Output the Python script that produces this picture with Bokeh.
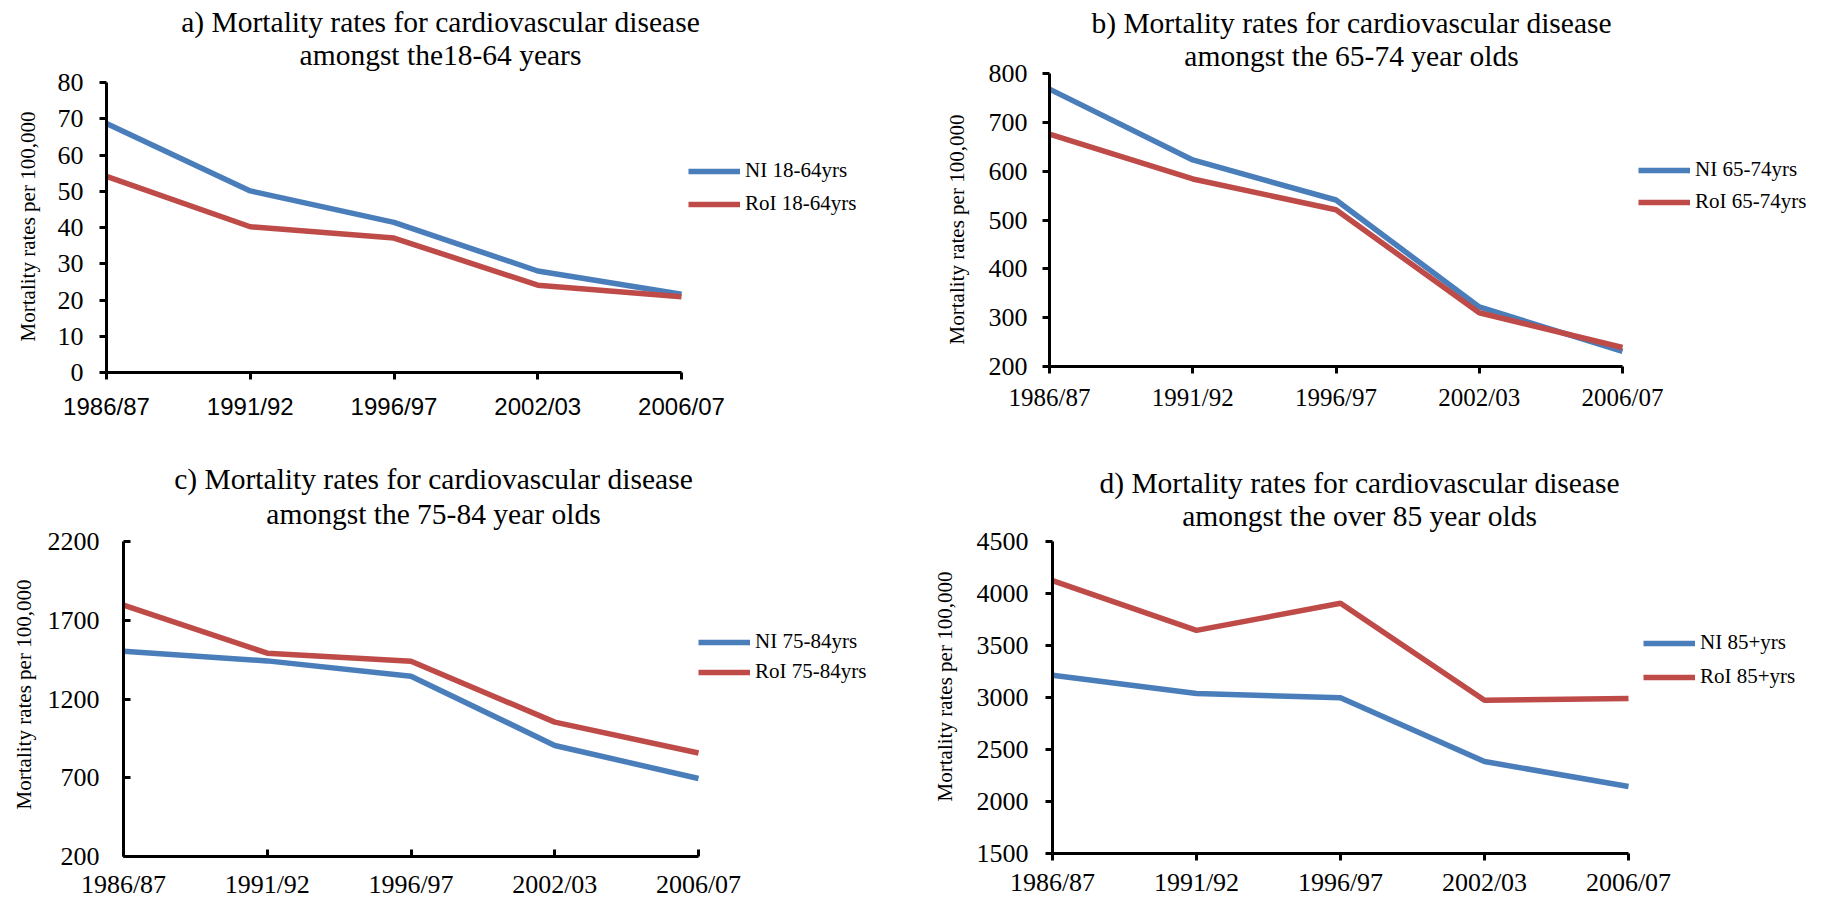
import math
from bokeh.plotting import figure
from bokeh.layouts import column, row
from bokeh.models import Range1d, FixedTicker, Legend, LegendItem, Label
from bokeh.embed import file_html
from bokeh.resources import INLINE

periods = ["1986/87", "1991/92", "1996/97", "2002/03", "2006/07"]

ni_18_64 = [68.7, 50.1, 41.4, 28.0, 21.6]
roi_18_64 = [54.1, 40.2, 37.1, 24.1, 20.9]
ni_65_74 = [768, 623, 541, 322, 231]
roi_65_74 = [676, 584, 521, 310, 239]
ni_75_84 = [1503, 1442, 1345, 905, 695]
roi_75_84 = [1796, 1491, 1440, 1053, 857]
ni_85 = [3214, 3038, 2997, 2384, 2145]
roi_85 = [4123, 3645, 3906, 2974, 2990]

titles = [
    ("a) Mortality rates for cardiovascular disease", "amongst the18-64 years"),
    ("b) Mortality rates for cardiovascular disease", "amongst the 65-74 year olds"),
    ("c) Mortality rates for cardiovascular disease", "amongst the 75-84 year olds"),
    ("d) Mortality rates for cardiovascular disease", "amongst the over 85 year olds"),
]
legend_labels = [
    ("NI 18-64yrs", "RoI 18-64yrs"),
    ("NI 65-74yrs", "RoI 65-74yrs"),
    ("NI 75-84yrs", "RoI 75-84yrs"),
    ("NI 85+yrs", "RoI 85+yrs"),
]
y_ticks = [
    [0, 10, 20, 30, 40, 50, 60, 70, 80],
    [200, 300, 400, 500, 600, 700, 800],
    [200, 700, 1200, 1700, 2200],
    [1500, 2000, 2500, 3000, 3500, 4000, 4500],
]
y_title = "Mortality rates per 100,000"

BLUE = "#4A7EBB"
RED = "#BE4B48"
SERIF = "Liberation Serif"


def panel(ox, oy, W, H, title, ni, roi, labels, yticks,
          axl, axr, axt, axb, tick_in, ylab_stand, xlab_stand, xfont, xsize,
          tcx, ty1, ty2, ytx, yty, leg_x, leg_c1, leg_c2):
    # axl..axb: page pixel positions of the axes' ends; the frame fills the figure
    n = len(periods) - 1
    y0, y1 = yticks[0], yticks[-1]
    kx = n / (axr - axl)
    ky = (y1 - y0) / (axb - axt)
    x_start = -(axl - ox) * kx
    x_end = (ox + W - axl) * kx
    y_start = y0 - (oy + H - axb) * ky
    y_end = y1 + (axt - oy) * ky

    p = figure(width=W, height=H, output_backend="svg", toolbar_location=None,
               x_range=Range1d(x_start, x_end), y_range=Range1d(y_start, y_end),
               min_border=0, min_border_left=0, min_border_right=0,
               min_border_top=0, min_border_bottom=0)
    p.outline_line_color = None
    p.xgrid.visible = False
    p.ygrid.visible = False
    p.background_fill_color = "white"
    p.border_fill_color = "white"

    xs = list(range(len(periods)))
    l1 = p.line(xs, ni, line_color=BLUE, line_width=5.5)
    l2 = p.line(xs, roi, line_color=RED, line_width=5.5)

    for ax in (p.xaxis[0], p.yaxis[0]):
        ax.axis_line_color = "black"
        ax.axis_line_width = 3
        ax.major_tick_line_color = "black"
        ax.major_tick_line_width = 3
        ax.minor_tick_line_color = None
        ax.major_tick_in = 7 if tick_in else 0
        ax.major_tick_out = 0 if tick_in else 7

    xa = p.xaxis[0]
    xa.fixed_location = y0
    xa.bounds = (0, n)
    xa.ticker = FixedTicker(ticks=xs)
    xa.major_label_overrides = {i: s for i, s in enumerate(periods)}
    xa.major_label_text_font = xfont
    xa.major_label_text_font_size = xsize
    xa.major_label_text_color = "black"
    xa.major_label_standoff = xlab_stand

    ya = p.yaxis[0]
    ya.fixed_location = 0
    ya.bounds = (y0, y1)
    ya.ticker = FixedTicker(ticks=yticks)
    ya.major_label_text_font = SERIF
    ya.major_label_text_font_size = "26px"
    ya.major_label_text_color = "black"
    ya.major_label_standoff = ylab_stand

    # y-axis title
    p.add_layout(Label(x=ytx - ox, y=oy + H - yty, x_units="screen", y_units="screen",
                       text=y_title, angle=math.pi / 2,
                       text_align="center", text_baseline="middle",
                       text_font=SERIF, text_font_size="21px", text_color="black"))

    # title lines
    for txt, ty in ((title[0], ty1), (title[1], ty2)):
        p.add_layout(Label(x=tcx - ox, y=oy + H - ty, x_units="screen", y_units="screen",
                           text=txt, text_align="center", text_baseline="middle",
                           text_font=SERIF, text_font_size="29.5px",
                           text_color="black"))

    item_h = 24
    spacing = (leg_c2 - leg_c1) - item_h
    leg_bottom = leg_c2 + item_h / 2
    legend = Legend(items=[LegendItem(label=labels[0], renderers=[l1]),
                           LegendItem(label=labels[1], renderers=[l2])],
                    location=(leg_x - ox, oy + H - leg_bottom),
                    orientation="vertical",
                    glyph_width=52, glyph_height=item_h, label_height=item_h,
                    label_standoff=5, spacing=int(round(spacing)), padding=0, margin=0,
                    border_line_color=None, background_fill_alpha=0,
                    label_text_font=SERIF, label_text_font_size="21px",
                    label_text_color="black")
    p.add_layout(legend, "center")
    return p


W1, W2 = 915, 905
H1, H2 = 420, 481

pa = panel(0, 0, W1, H1, titles[0], ni_18_64, roi_18_64, legend_labels[0], y_ticks[0],
           106, 681, 82, 372, False, 16, 13, "Liberation Sans", "24px",
           440, 21, 54, 27, 226, 688, 172, 204)
pb = panel(W1, 0, W2, H1, titles[1], ni_65_74, roi_65_74, legend_labels[1], y_ticks[1],
           1049, 1622, 73, 366, False, 15, 10, SERIF, "25px",
           1351, 22, 55, 956, 229, 1638, 171, 202)
pc = panel(0, H1, W1, H2, titles[2], ni_75_84, roi_75_84, legend_labels[2], y_ticks[2],
           123, 698, 541, 856, True, 24, 13, SERIF, "26px",
           433, 478, 513, 23, 694, 698, 643, 672)
pd = panel(W1, H1, W2, H2, titles[3], ni_85, roi_85, legend_labels[3], y_ticks[3],
           1052, 1628, 541, 853, False, 17, 7, SERIF, "26px",
           1359, 482, 515, 944, 686, 1643, 644, 677)

layout = column(row(pa, pb), row(pc, pd))

open("out.html", "w").write(file_html(layout, INLINE))
